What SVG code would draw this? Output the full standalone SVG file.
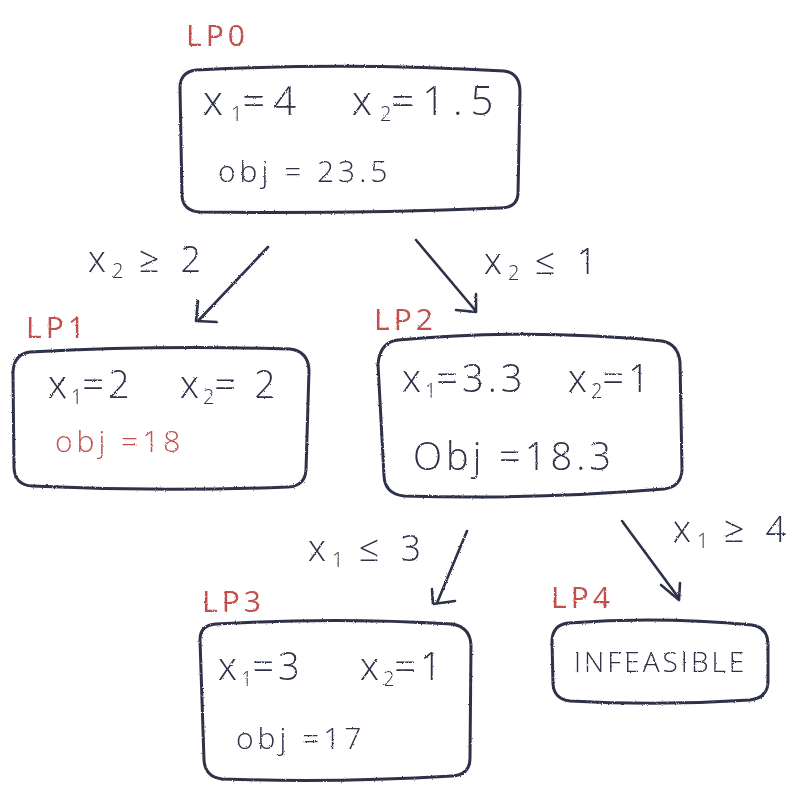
<svg xmlns="http://www.w3.org/2000/svg" width="800" height="800" viewBox="0 0 800 800">
<defs>
<filter id="rough" x="-5%" y="-5%" width="110%" height="110%">
<feTurbulence type="fractalNoise" baseFrequency="0.9" numOctaves="2" seed="3" result="n"/>
<feDisplacementMap in="SourceGraphic" in2="n" scale="2.2"/>
</filter>
</defs>
<style>
.box{fill:none;stroke:#2f3148;stroke-width:3;stroke-linecap:round;stroke-linejoin:round}
.edge{fill:none;stroke:#2f3148;stroke-width:2.6;stroke-linecap:round;stroke-linejoin:round}
.t{font-family:"Open Sans","Liberation Sans",sans-serif;font-weight:300;fill:#2f3148}
.big{font-size:38px;letter-spacing:4px}
.mid{font-size:30px;letter-spacing:4px}
.cond{font-size:36px;letter-spacing:6px}
.lab{font-family:"Open Sans","Liberation Sans",sans-serif;font-weight:400;fill:#c0504d;font-size:30px;letter-spacing:4px}
.red{fill:#c0504d}
.sub{font-size:20px;letter-spacing:0}
.wide{font-size:40px;letter-spacing:8px}
</style>
<rect width="800" height="800" fill="#ffffff"/>
<g id="connectors" filter="url(#rough)">
<path class="edge" d="M268 247 L198 321"/>
<path class="edge" d="M198 301 L196 321 L217 322"/>
<path class="edge" d="M416 240 L475 310"/>
<path class="edge" d="M476 294 L476 312 L456 310"/>
<path class="edge" d="M467 531 L437 603"/>
<path class="edge" d="M432 589 L433 604 L455 601"/>
<path class="edge" d="M622 521 L678 597"/>
<path class="edge" d="M661 585 L679 600 L680 583"/>
<text class="t cond" x="88" y="272">x<tspan class="sub" dy="6">2</tspan><tspan dy="-6"> ≥ 2</tspan></text>
<text class="t cond" x="484" y="274">x<tspan class="sub" dy="6">2</tspan><tspan dy="-6"> ≤ 1</tspan></text>
<text class="t cond" x="308" y="561">x<tspan class="sub" dy="6">1</tspan><tspan dy="-6"> ≤ 3</tspan></text>
<text class="t cond" x="673" y="542">x<tspan class="sub" dy="6">1</tspan><tspan dy="-6"> ≥ 4</tspan></text>
</g>
<g id="LP0" filter="url(#rough)">
<text class="lab" x="186" y="46">LP0</text>
<path class="box" d="M196 70 Q350 62 504 71 Q520 73 520 92 L518 194 Q517 208 500 208 Q350 214 200 212 Q183 211 182 196 L180 88 Q180 72 196 70 Z"/>
<text class="t wide" x="203" y="115">x<tspan class="sub" dy="6">1</tspan><tspan dy="-6">=4</tspan></text>
<text class="t wide" x="352" y="115">x<tspan class="sub" dy="6">2</tspan><tspan dy="-6">=1.5</tspan></text>
<text class="t mid" x="218" y="182">obj = 23.5</text>
</g>
<g id="LP1" filter="url(#rough)">
<text class="lab" x="26" y="338">LP1</text>
<path class="box" d="M30 352 Q160 345 290 349 Q308 351 309 370 L306 470 Q305 486 288 487 Q160 492 32 486 Q15 485 14 468 L13 372 Q14 354 30 352 Z"/>
<text class="t big" x="48" y="398">x<tspan class="sub" dy="6">1</tspan><tspan dy="-6">=2</tspan></text>
<text class="t big" x="180" y="398">x<tspan class="sub" dy="6">2</tspan><tspan dy="-6">= 2</tspan></text>
<text class="t mid red" x="55" y="452">obj =18</text>
</g>
<g id="LP2" filter="url(#rough)">
<text class="lab" x="374" y="330">LP2</text>
<path class="box" d="M398 340 Q530 328 662 341 Q678 344 680 362 L682 470 Q681 487 664 489 Q530 500 404 496 Q385 494 384 476 L378 364 Q380 342 398 340 Z"/>
<text class="t big" x="402" y="392">x<tspan class="sub" dy="6">1</tspan><tspan dy="-6">=3.3</tspan></text>
<text class="t big" x="568" y="392">x<tspan class="sub" dy="6">2</tspan><tspan dy="-6">=1</tspan></text>
<text class="t big" x="413" y="470">Obj =18.3</text>
</g>
<g id="LP3" filter="url(#rough)">
<text class="lab" x="202" y="612">LP3</text>
<path class="box" d="M216 624 Q335 617 452 624 Q470 627 471 645 L470 758 Q470 775 452 776 Q335 783 222 779 Q205 777 204 760 L200 640 Q200 625 216 624 Z"/>
<text class="t big" x="218" y="680">x<tspan class="sub" dy="6">1</tspan><tspan dy="-6">=3</tspan></text>
<text class="t big" x="360" y="680">x<tspan class="sub" dy="6">2</tspan><tspan dy="-6">=1</tspan></text>
<text class="t mid" x="236" y="749">obj =17</text>
</g>
<g id="LP4" filter="url(#rough)">
<text class="lab" x="551" y="608">LP4</text>
<path class="box" d="M568 623 Q658 616 752 625 Q767 627 768 643 L768 683 Q767 698 750 700 Q660 706 570 701 Q554 699 553 684 L552 640 Q553 625 568 623 Z"/>
<text class="t" x="574" y="672" font-size="28" letter-spacing="3">INFEASIBLE</text>
</g>
</svg>
